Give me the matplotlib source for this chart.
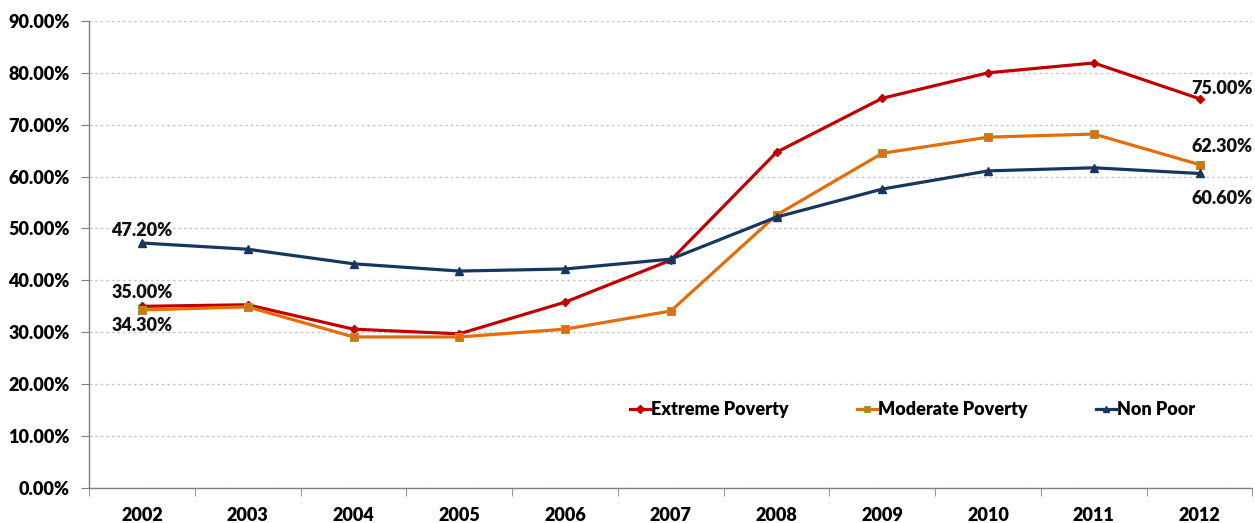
import matplotlib.pyplot as plt
from matplotlib.ticker import FuncFormatter, FixedLocator

plt.rcParams['font.family'] = ['Lato', 'DejaVu Sans']

years = ['2002', '2003', '2004', '2005', '2006', '2007', '2008', '2009', '2010', '2011', '2012']
extreme = [35.0, 35.3, 30.6, 29.7, 35.8, 43.9, 64.7, 75.1, 80.0, 81.9, 75.0]
moderate = [34.3, 34.9, 29.1, 29.1, 30.6, 34.1, 52.6, 64.5, 67.6, 68.2, 62.3]
non_poor = [47.2, 46.0, 43.2, 41.8, 42.2, 44.1, 52.2, 57.6, 61.1, 61.7, 60.6]

FS = 13
WEIGHT = 'heavy'

fig = plt.figure(figsize=(12.55, 5.23), dpi=100)
ax = fig.add_axes([0.071, 0.067, 0.927, 0.893])

x = list(range(len(years)))
ax.plot(x, extreme, color='#C00000', lw=2.3, marker='D', ms=4.5, label='Extreme Poverty', zorder=3)
ax.plot(x, moderate, color='#E46C0A', lw=2.3, marker='s', ms=5.5, mec='#9A9A3A', mew=0.8,
        label='Moderate Poverty', zorder=3)
ax.plot(x, non_poor, color='#17375E', lw=2.3, marker='^', ms=5.5, label='Non Poor', zorder=3)

ax.set_xlim(-0.5, len(years) - 0.5)
ax.set_ylim(0, 90)
ax.set_yticks(range(0, 91, 10))
ax.yaxis.set_major_formatter(FuncFormatter(lambda v, p: f'{v:.2f}%'))
ax.grid(axis='y', color='#C8C8C8', ls=(0, (2, 2)), lw=1)
ax.set_axisbelow(True)

# category labels centred in slots, tick marks on slot borders
ax.set_xticks(x)
ax.set_xticklabels(years)
ax.tick_params(axis='x', which='major', length=0, pad=14)
ax.xaxis.set_minor_locator(FixedLocator([i - 0.5 for i in range(len(years) + 1)]))
ax.tick_params(axis='x', which='minor', length=6, color='#808080', direction='out')
ax.tick_params(axis='y', length=6, color='#808080', direction='out', pad=8)

for lbl in ax.get_xticklabels() + ax.get_yticklabels():
    lbl.set_fontsize(FS)
    lbl.set_fontweight(WEIGHT)

for s in ['top', 'right']:
    ax.spines[s].set_visible(False)
for s in ['left', 'bottom']:
    ax.spines[s].set_color('#808080')
    ax.spines[s].set_linewidth(1)

txt = dict(fontsize=FS, fontweight=WEIGHT, color='#111111')
ax.annotate(f'{non_poor[0]:.2f}%', (0, non_poor[0]), xytext=(0, 3), textcoords='offset points',
            ha='center', va='bottom', **txt)
ax.annotate(f'{extreme[0]:.2f}%', (0, extreme[0]), xytext=(0, 4), textcoords='offset points',
            ha='center', va='bottom', **txt)
ax.annotate(f'{moderate[0]:.2f}%', (0, moderate[0]), xytext=(0, -5), textcoords='offset points',
            ha='center', va='top', **txt)
ax.annotate(f'{extreme[-1]:.2f}%', (10, extreme[-1]), xytext=(16, 1), textcoords='offset points',
            ha='center', va='bottom', **txt)
ax.annotate(f'{moderate[-1]:.2f}%', (10, moderate[-1]), xytext=(16, 7), textcoords='offset points',
            ha='center', va='bottom', **txt)
ax.annotate(f'{non_poor[-1]:.2f}%', (10, non_poor[-1]), xytext=(16, -12), textcoords='offset points',
            ha='center', va='top', **txt)

leg = ax.legend(loc='center', bbox_to_anchor=(0.708, 0.167), ncol=3, frameon=False,
                handlelength=1.1, handletextpad=0.05, columnspacing=3.8, markerscale=0.8,
                borderaxespad=0, borderpad=0,
                prop={'size': FS, 'weight': WEIGHT})

fig.savefig('out.png', dpi=100)
